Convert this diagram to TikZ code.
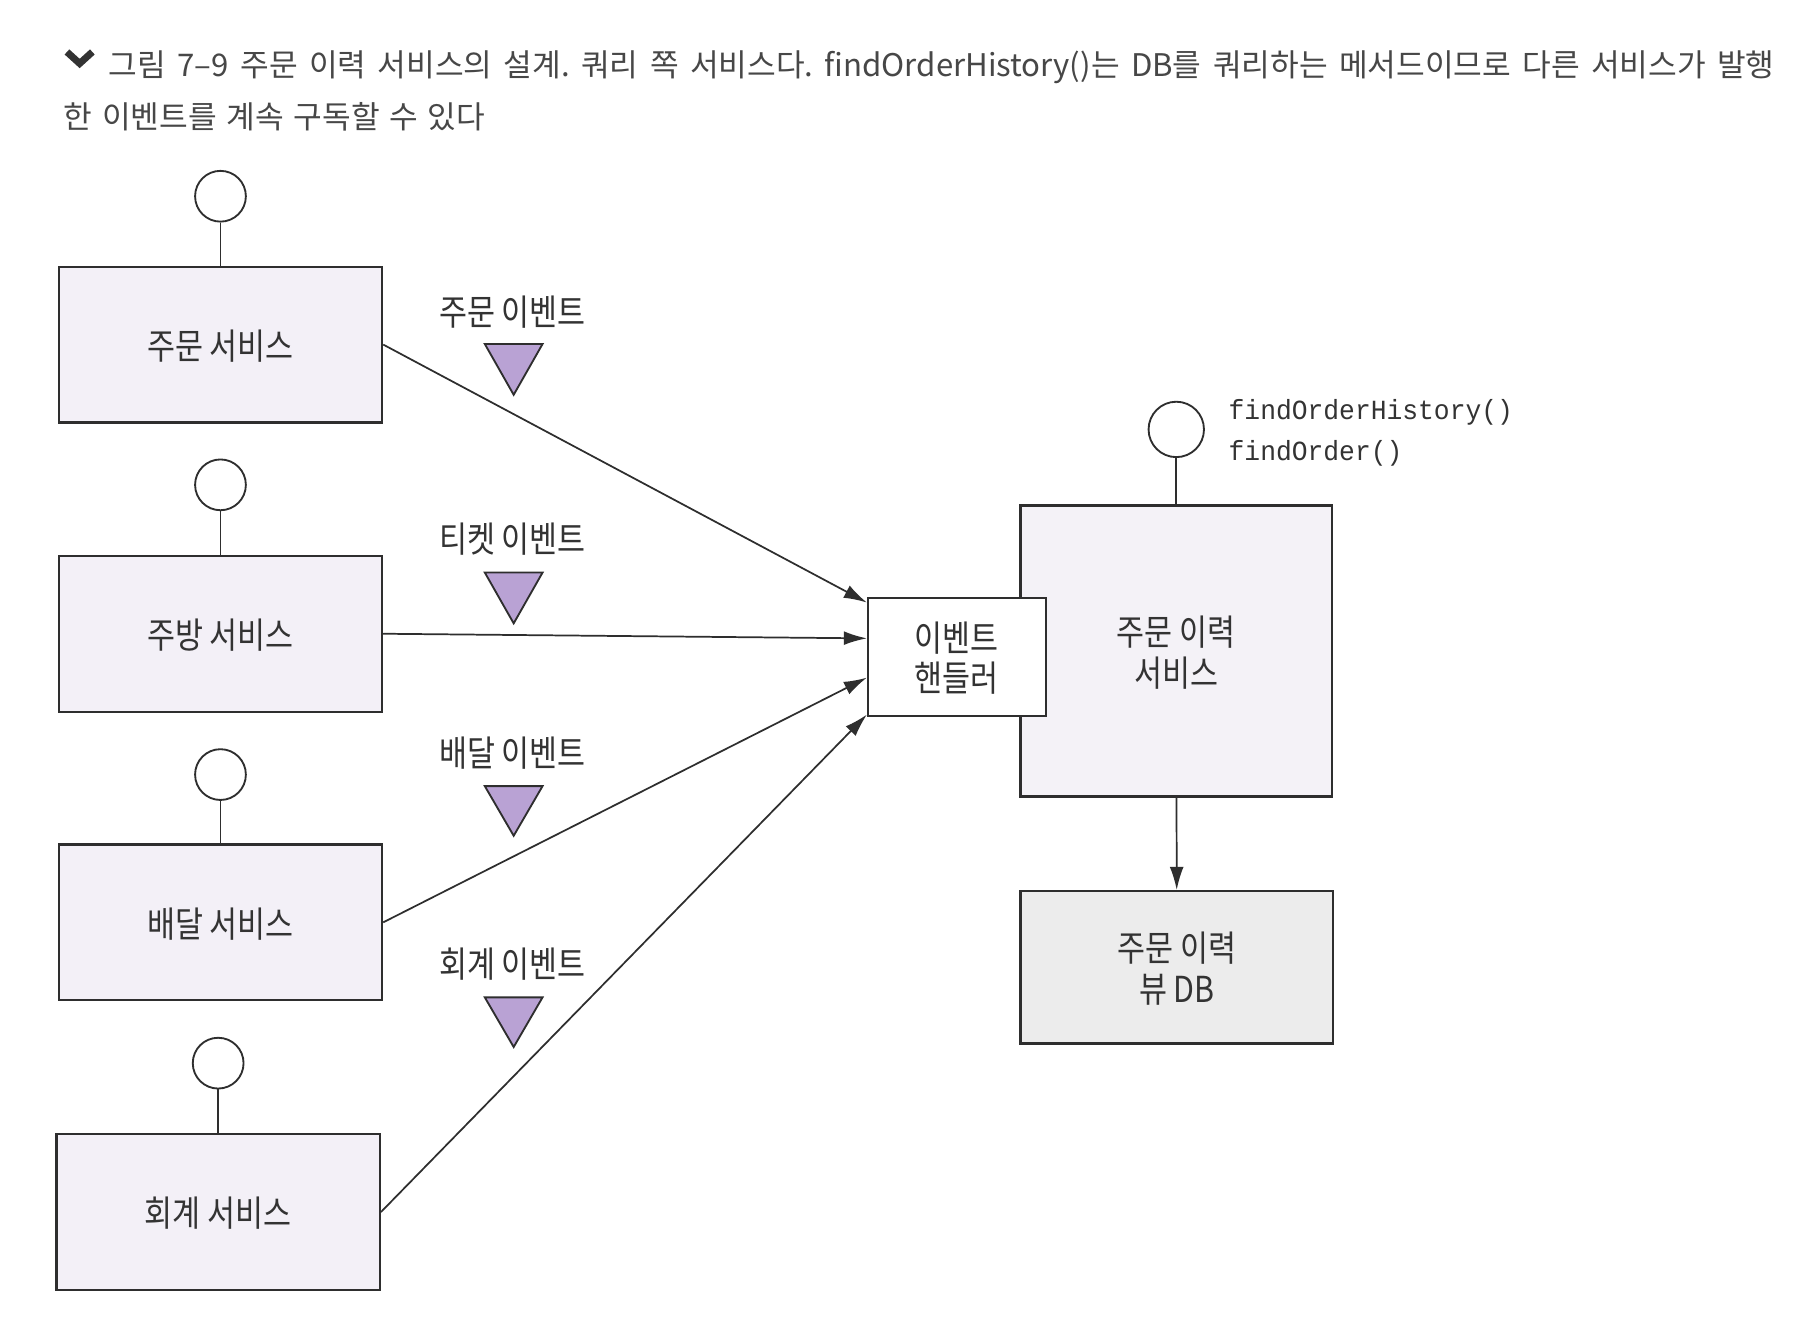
\documentclass[tikz,border=0pt]{standalone}
\usepackage{fontspec}
\setmainfont{Noto Sans CJK KR}
\newfontfamily\krfont{Noto Sans CJK KR}
\newfontfamily\krnfont[FakeStretch=0.85]{Noto Sans CJK KR}
\newfontfamily\codemono[FakeStretch=0.95]{Liberation Mono}
\usetikzlibrary{arrows.meta}
\definecolor{linec}{HTML}{2E2E2E}
\definecolor{svcfill}{HTML}{F3F0F7}
\definecolor{ohfill}{HTML}{F4F2F7}
\definecolor{dbfill}{HTML}{ECECEC}
\definecolor{trifill}{HTML}{B9A2D4}
\definecolor{txtc}{HTML}{333333}
\newcommand\lblfont{\krnfont\fontsize{15.5pt}{17.5pt}\selectfont}
\newcommand\ttlfont{\krfont\fontsize{13.5pt}{15pt}\selectfont}
\newcommand\codefont{\codemono\fontsize{12pt}{14pt}\selectfont}
\frenchspacing
\begin{document}
\begin{tikzpicture}[x=0.5pt,y=-0.5pt,
  every node/.style={text=txtc},
  svc/.style={draw=linec, line width=1pt, fill=svcfill, minimum width=140pt, minimum height=67.5pt, inner sep=0pt, font=\lblfont, align=center, text depth=0pt},
  ohs/.style={draw=linec, line width=1pt, fill=ohfill, minimum width=135pt, minimum height=126pt, inner sep=0pt, font=\lblfont, align=center, text depth=0pt},
  hdl/.style={draw=linec, line width=1pt, fill=white, minimum width=77pt, minimum height=51pt, inner sep=0pt, font=\lblfont, align=center, text depth=0pt},
  dbbox/.style={draw=linec, line width=1pt, fill=dbfill, minimum width=135.5pt, minimum height=66pt, inner sep=0pt, font=\lblfont, align=center, text depth=0pt},
  iface/.style={circle, draw=linec, line width=0.8pt, fill=white, minimum size=22pt, inner sep=0pt},
  stem/.style={draw=linec, line width=0.8pt},
  evlbl/.style={font=\lblfont, inner sep=0pt},
  evtri/.style={draw=linec, line width=0.8pt, fill=trifill, line join=miter},
  conn/.style={draw=linec, line width=0.75pt, -{Latex[length=10pt,width=6pt]}},
  ttl/.style={font=\ttlfont, anchor=west, inner sep=0pt, text=txtc!90!white}
]
\useasboundingbox (0,0) rectangle (1568,1142);
\fill[white] (0,0) rectangle (1568,1142);

% title
\draw[line width=3pt, draw=txtc, line join=miter] (58,45) -- (69,55) -- (80,45);
\node[ttl] (title1) at (94,58) {\makebox[721.5pt][s]{그림 7–9 주문 이력 서비스의 설계. 쿼리 쪽 서비스다. findOrderHistory()는 DB를 쿼리하는 메서드이므로 다른 서비스가 발행}};
\node[ttl] (title2) at (55,101) {\makebox[182.5pt][s]{한 이벤트를 계속 구독할 수 있다}};

% services
\node[svc] (s1) at (191,298.5) {주문 서비스};
\node[svc] (s2) at (191,549) {주방 서비스};
\node[svc] (s3) at (191,799) {배달 서비스};
\node[svc] (s4) at (189,1050) {회계 서비스};
\node[iface] (c1) at (191,170) {};
\node[iface] (c2) at (191,420) {};
\node[iface] (c3) at (191,671) {};
\node[iface] (c4) at (189,921) {};
\draw[stem] (c1) -- (s1);
\draw[stem] (c2) -- (s2);
\draw[stem] (c3) -- (s3);
\draw[stem] (c4) -- (s4);

% events
\node[evlbl] (e1) at (444,270) {주문 이벤트};
\node[evlbl] (e2) at (444,467) {티켓 이벤트};
\node[evlbl] (e3) at (444,652) {배달 이벤트};
\node[evlbl] (e4) at (444,835) {회계 이벤트};
\draw[evtri] (420,298) -- (470,298) -- (445,342) -- cycle;
\draw[evtri] (420,496) -- (470,496) -- (445,540) -- cycle;
\draw[evtri] (420,681) -- (470,681) -- (445,724) -- cycle;
\draw[evtri] (420,864) -- (470,864) -- (445,907) -- cycle;

% order history service
\node[ohs] (o) at (1019,564) {주문 이력\\서비스};
\node[iface, minimum size=24pt] (oc) at (1019,372) {};
\draw[stem] (oc) -- (o);
\node[font=\codefont, anchor=west, inner sep=0pt] (m1) at (1064,357) {findOrderHistory()};
\node[font=\codefont, anchor=west, inner sep=0pt] (m2) at (1064,393) {findOrder()};

\node[hdl] (h) at (829,569) {이벤트\\핸들러};

\node[dbbox] (d) at (1019.5,838) {주문 이력\\뷰 DB};
\draw[conn] (o) -- (d);

% connectors into handler
\draw[conn] (s1.east) -- ([yshift=23.5pt]h.west);
\draw[conn] (s2.east) -- ([yshift=8pt]h.west);
\draw[conn] (s3.east) -- ([yshift=-9pt]h.west);
\draw[conn] (s4.east) -- ([yshift=-25pt]h.west);
\end{tikzpicture}
\end{document}
